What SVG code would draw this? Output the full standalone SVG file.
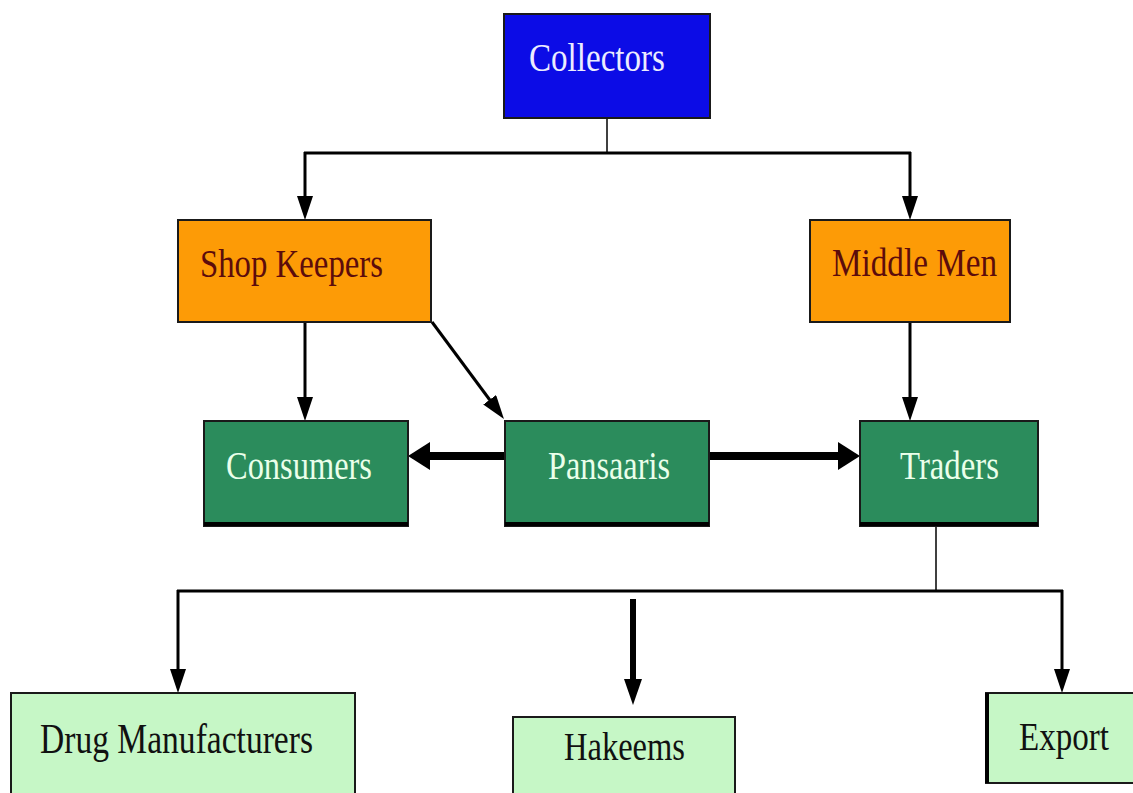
<svg xmlns="http://www.w3.org/2000/svg" width="1133" height="793" viewBox="0 0 1133 793">
<style>
  .box { stroke: #1a1a1a; stroke-width: 2; }
  .blue { fill: #0c0ce6; }
  .orange { fill: #fd9b06; }
  .dgreen { fill: #2b8c5c; }
  .lgreen { fill: #c6f7c6; }
  .lbl { font-family: "Liberation Serif", "DejaVu Serif", serif; font-size: 41px; }
  .big { font-size: 43px; }
  .sm { font-size: 40px; }
  .tw { fill: #ececff; }
  .tr { fill: #5c0c0c; }
  .tg { fill: #eaffea; }
  .tk { fill: #111111; }
  .conn { stroke: #000; fill: none; stroke-linecap: butt; }
  .thin { stroke-width: 1.5; }
  .mid { stroke-width: 3; }
  .fat { stroke-width: 8; }
  .hk { stroke-width: 6; }
  .base { stroke: #000; stroke-width: 4; }
</style>
<defs>
  <marker id="arr" markerUnits="userSpaceOnUse" markerWidth="24" markerHeight="16" viewBox="0 0 24 16" refX="14" refY="8" orient="auto">
    <path d="M0,0 L24,8 L0,16 Z" fill="#000"/>
  </marker>
  <marker id="arrFat" markerUnits="userSpaceOnUse" markerWidth="22" markerHeight="28" viewBox="0 0 22 28" refX="12" refY="14" orient="auto">
    <path d="M0,0 L22,14 L0,28 Z" fill="#000"/>
  </marker>
  <marker id="arrHk" markerUnits="userSpaceOnUse" markerWidth="26" markerHeight="18" viewBox="0 0 26 18" refX="14" refY="9" orient="auto">
    <path d="M0,0 L26,9 L0,18 Z" fill="#000"/>
  </marker>
</defs>
<rect width="1133" height="793" fill="#ffffff"/>

<g id="connectors">
  <line class="conn thin" x1="607" y1="118" x2="607" y2="153"/>
  <line class="conn mid" x1="304" y1="153" x2="911" y2="153"/>
  <line class="conn mid" x1="305" y1="152" x2="305" y2="210" marker-end="url(#arr)"/>
  <line class="conn mid" x1="910" y1="152" x2="910" y2="210" marker-end="url(#arr)"/>
  <line class="conn mid" x1="305" y1="322" x2="305" y2="411" marker-end="url(#arr)"/>
  <line class="conn mid" x1="432" y1="322" x2="498" y2="411" marker-end="url(#arr)"/>
  <line class="conn mid" x1="910" y1="322" x2="910" y2="411" marker-end="url(#arr)"/>
  <line class="conn fat" x1="505" y1="456" x2="418" y2="456" marker-end="url(#arrFat)"/>
  <line class="conn fat" x1="709" y1="456" x2="850" y2="456" marker-end="url(#arrFat)"/>
  <line class="conn thin" x1="936" y1="526" x2="936" y2="591"/>
  <line class="conn mid" x1="177" y1="591" x2="1063" y2="591"/>
  <line class="conn mid" x1="178" y1="590" x2="178" y2="683" marker-end="url(#arr)"/>
  <line class="conn mid" x1="1062" y1="590" x2="1062" y2="683" marker-end="url(#arr)"/>
  <line class="conn hk" x1="633" y1="599" x2="633" y2="693" marker-end="url(#arrHk)"/>
</g>

<g id="collectors">
  <rect class="box blue" x="504" y="14" width="206" height="104"/>
  <text class="lbl tw" x="529" y="71" textLength="136" lengthAdjust="spacingAndGlyphs">Collectors</text>
</g>

<g id="shop-keepers">
  <rect class="box orange" x="178" y="220" width="253" height="102"/>
  <text class="lbl tr" x="200" y="277" textLength="183" lengthAdjust="spacingAndGlyphs">Shop Keepers</text>
</g>

<g id="middle-men">
  <rect class="box orange" x="810" y="220" width="200" height="102"/>
  <text class="lbl tr" x="832" y="276" textLength="165" lengthAdjust="spacingAndGlyphs">Middle Men</text>
</g>

<g id="consumers">
  <rect class="box dgreen" x="204" y="421" width="204" height="105"/>
  <line class="base" x1="204" y1="524" x2="408" y2="524"/>
  <text class="lbl tg" x="226" y="479" textLength="146" lengthAdjust="spacingAndGlyphs">Consumers</text>
</g>

<g id="pansaaris">
  <rect class="box dgreen" x="505" y="421" width="204" height="105"/>
  <line class="base" x1="505" y1="524" x2="709" y2="524"/>
  <text class="lbl tg" x="548" y="479" textLength="122" lengthAdjust="spacingAndGlyphs">Pansaaris</text>
</g>

<g id="traders">
  <rect class="box dgreen" x="860" y="421" width="178" height="105"/>
  <line class="base" x1="860" y1="524" x2="1038" y2="524"/>
  <text class="lbl tg" x="900" y="479" textLength="99" lengthAdjust="spacingAndGlyphs">Traders</text>
</g>

<g id="drug-manufacturers">
  <path class="box lgreen" d="M11,793 L11,693 L355,693 L355,793"/>
  <text class="lbl big tk" x="40" y="753" textLength="273" lengthAdjust="spacingAndGlyphs">Drug Manufacturers</text>
</g>

<g id="hakeems">
  <path class="box lgreen" d="M513,793 L513,717 L735,717 L735,793"/>
  <text class="lbl tk" x="564" y="760" textLength="121" lengthAdjust="spacingAndGlyphs">Hakeems</text>
</g>

<g id="export">
  <path class="box lgreen" d="M1133,693 L986,693 L986,783 L1133,783"/>
  <line class="base" x1="987" y1="693" x2="987" y2="783"/>
  <text class="lbl sm tk" x="1019" y="750" textLength="90" lengthAdjust="spacingAndGlyphs">Export</text>
</g>
</svg>
